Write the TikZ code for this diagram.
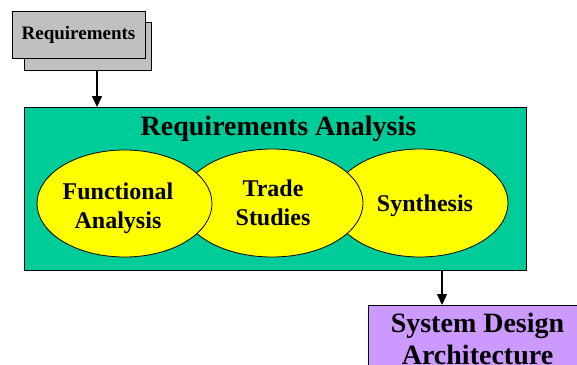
\documentclass[tikz,border=0pt]{standalone}
\usepackage{fontspec}
\setmainfont{Liberation Serif}
\usetikzlibrary{arrows.meta,shapes.geometric}
\definecolor{boxgray}{HTML}{C0C0C0}
\definecolor{teal}{HTML}{00CC99}
\definecolor{sun}{HTML}{FFFF00}
\definecolor{lilac}{HTML}{CC99FF}
\tikzset{
  frame/.style={draw=black, line width=0.9pt, inner sep=0pt, outer sep=0pt},
  bubble/.style={ellipse, draw=black, line width=0.8pt, fill=sun, inner sep=0pt},
  lbl/.style={align=center, inner sep=0pt, font=\bfseries\fontsize{24}{29}\selectfont},
  flow/.style={-{Triangle[width=10pt,length=11pt]}, line width=1.3pt}
}
\begin{document}
\begin{tikzpicture}[x=1pt,y=-1pt]
  \useasboundingbox (0,0) rectangle (577,364);
  \clip (0,0) rectangle (577,364);

  % stacked requirements cards
  \node[frame, fill=boxgray, minimum width=127pt, minimum height=48pt] (reqback) at (87.5,46) {};
  \node[frame, fill=boxgray, minimum width=133pt, minimum height=47pt] (req) at (78.5,34.5) {};
  \node[inner sep=0pt, font=\bfseries\fontsize{19}{22}\selectfont] at (req.center) {Requirements};

  % analysis block
  \node[frame, fill=teal, minimum width=502pt, minimum height=163pt] (ana) at (275,188.5) {};
  \node[inner sep=0pt, font=\bfseries\fontsize{28}{32}\selectfont] (anatitle) at (278.5,129) {Requirements Analysis};

  % overlapping activity bubbles, drawn right to left
  \node[bubble, minimum width=176pt, minimum height=108pt] (syn) at (420,203) {};
  \node[bubble, minimum width=182pt, minimum height=108pt] (trade) at (272,203) {};
  \node[bubble, minimum width=175pt, minimum height=107pt] (func) at (124.5,203.5) {};
  \node[lbl] at (118,208) {Functional\\Analysis};
  \node[lbl] at (273,202.5) {Trade\\Studies};
  \node[lbl] at (425,206) {Synthesis};

  % design output
  \node[frame, fill=lilac, anchor=north west, minimum width=230pt, minimum height=80pt] (sda) at (368,305) {};
  \node[align=center, inner sep=0pt, font=\bfseries\fontsize{28}{32}\selectfont] at (477.5,339) {System Design\\Architecture};

  % connectors
  \draw[flow] (reqback.south -| 97,0) -- (ana.north -| 97,0);
  \draw[flow] (ana.south -| 442,0) -- (sda.north -| 442,0);
\end{tikzpicture}
\end{document}
